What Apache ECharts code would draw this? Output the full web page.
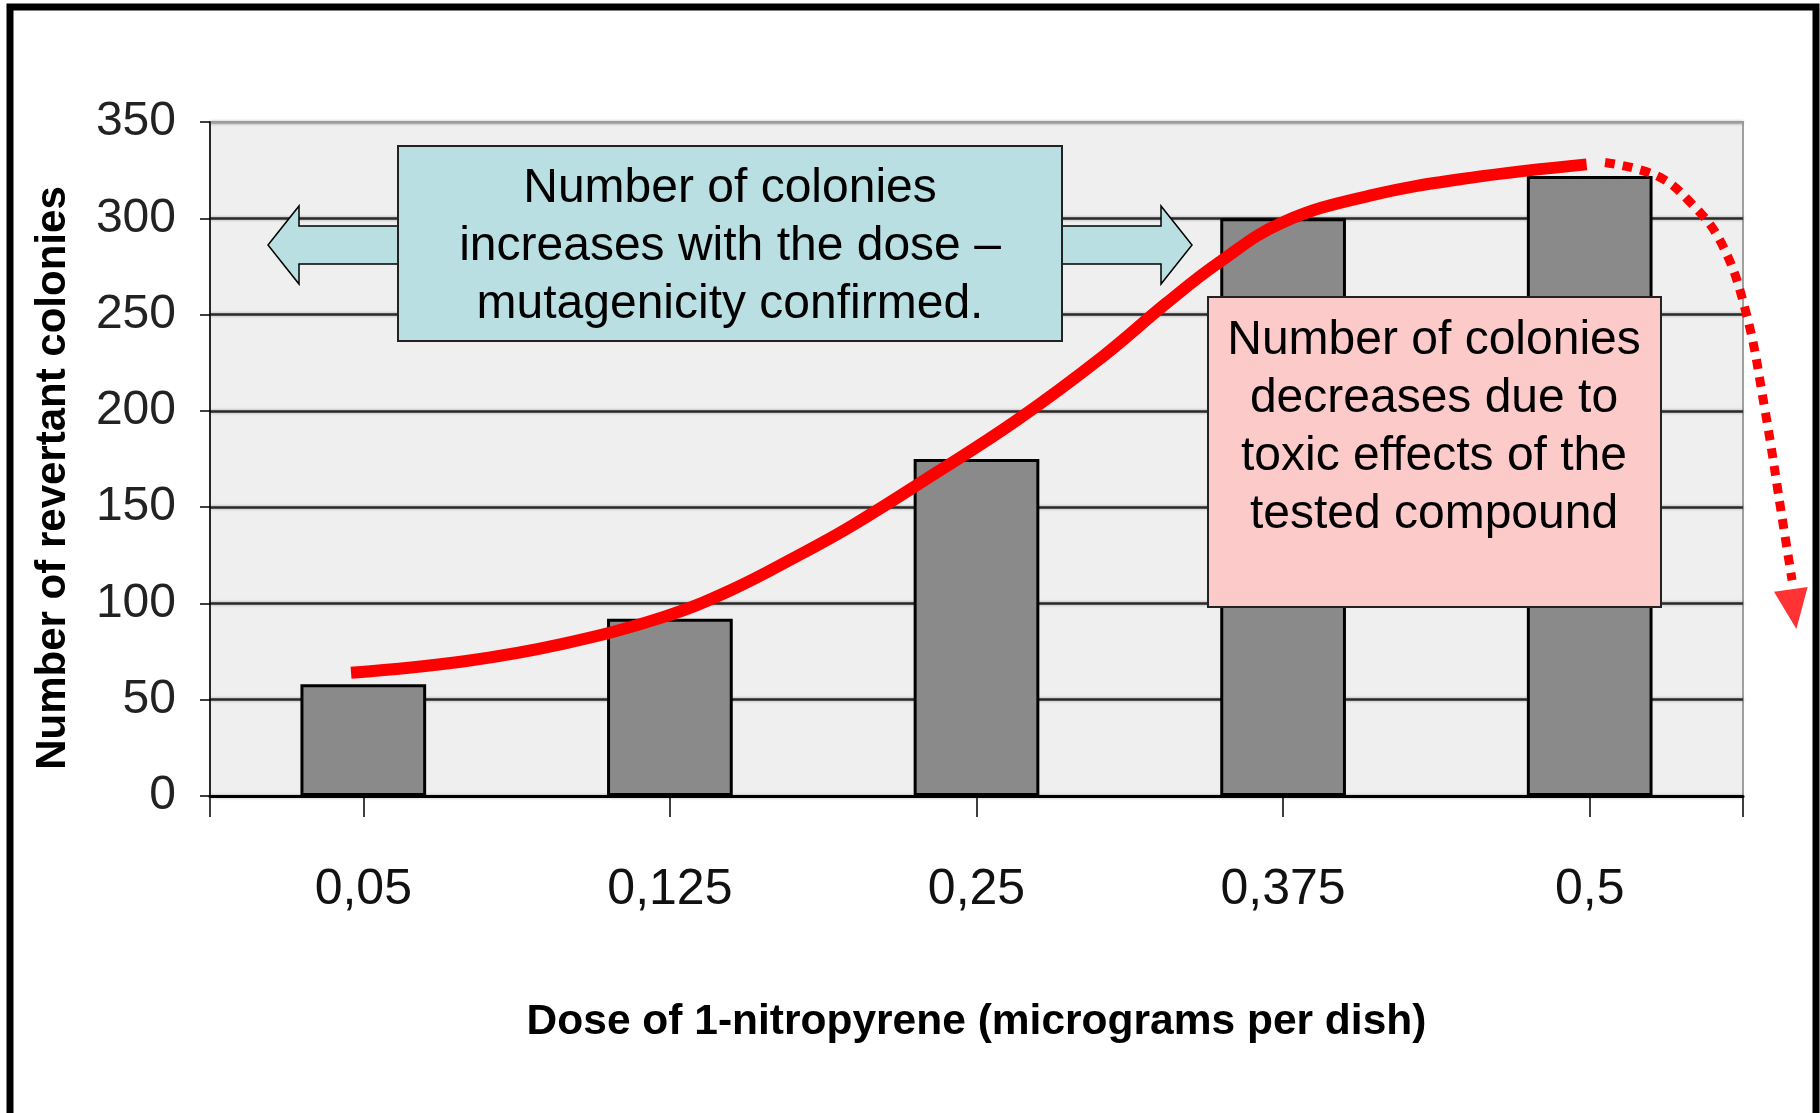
<!DOCTYPE html>
<html>
<head>
<meta charset="utf-8">
<title>Ames test - 1-nitropyrene</title>
<script src="https://cdn.jsdelivr.net/npm/echarts@6/dist/echarts.min.js"></script>
<style>
  html, body { margin: 0; padding: 0; background: #fff; }
  #chart { width: 1820px; height: 1113px; }
</style>
</head>
<body>
<div id="chart"></div>
<script>
// dose categories (x axis)
var doses = ['0,05', '0,125', '0,25', '0,375', '0,5'];
// revertant colonies per dose
var colonies = [58, 92, 175, 300, 322];
// y axis ticks
var yMin = 0, yMax = 350, yStep = 50;

// hand-drawn trend curve, [category position, colonies]
var trendSolid = [[-0.04, 64], [0.33, 70], [0.65, 79], [0.98, 93], [1.2, 107], [1.42, 125], [1.59, 140],
                  [1.86, 167], [2.13, 195], [2.41, 228], [2.62, 256], [2.79, 277], [3.0, 298],
                  [3.29, 312], [3.61, 321], [3.99, 328]];
// dotted continuation after the peak
var trendDotted = [[4.05, 329], [4.22, 322], [4.33, 308], [4.43, 287], [4.51, 251], [4.57, 202], [4.63, 142], [4.66, 112]];
// arrow head at end of dotted curve
var arrowHead = [[4.665, 97]];

// annotation texts
var noteUp = 'Number of colonies\nincreases with the dose \u2013\nmutagenicity confirmed.';
var noteDown = 'Number of colonies\ndecreases due to\ntoxic effects of the\ntested compound';
var xTitle = 'Dose of 1-nitropyrene (micrograms per dish)';
var yTitle = 'Number of revertant colonies';

var sans = "'Liberation Sans', Arial, sans-serif";
var teal = '#b9dfe2';
var pink = '#fdcaca';

// plot area
var chartW = 1820;
var plotLeft = 210, plotRight = 77, plotTop = 122, plotBottom = 317;
var bandWidth = (chartW - plotLeft - plotRight) / doses.length;
// the curve grid runs to the right edge of the page so the dotted arrow can leave the plot
var curveMax = -0.5 + (chartW - plotLeft) / bandWidth;

var chart = echarts.init(document.getElementById('chart'), null, {renderer: 'canvas'});

// gridline colours: last one (350) is the light plot border
var gridColors = [];
var nLines = (yMax - yMin) / yStep;
for (var i = 0; i <= nLines; i++) {
    gridColors.push(i === nLines ? '#a0a0a0' : '#2b2b2b');
}

var option = {
    backgroundColor: '#ffffff',
    animation: false,
    grid: [
        {
            left: plotLeft, right: plotRight, top: plotTop, bottom: plotBottom,
            show: true,
            backgroundColor: '#efefef',
            borderColor: '#a0a0a0',
            borderWidth: 2
        },
        {
            // same height, wider: used only by the red curve
            left: plotLeft, right: 0, top: plotTop, bottom: plotBottom,
            show: false
        }
    ],
    xAxis: [
        {
            type: 'category',
            gridIndex: 0,
            data: doses,
            boundaryGap: true,
            name: xTitle,
            nameLocation: 'middle',
            nameGap: 205,
            nameTextStyle: {fontFamily: sans, fontWeight: 'bold', fontSize: 42.5, color: '#000'},
            axisLine: {show: true, lineStyle: {color: '#000', width: 3}},
            axisTick: {show: true, alignWithLabel: true, length: 21, lineStyle: {color: '#000', width: 1.5}},
            axisLabel: {fontFamily: sans, fontSize: 50, color: '#111', margin: 69},
            splitLine: {show: false}
        },
        {
            // only gives the ticks at the two ends of the x axis
            type: 'category',
            gridIndex: 0,
            data: [''],
            position: 'bottom',
            boundaryGap: true,
            axisLine: {show: false},
            axisTick: {show: true, length: 21, lineStyle: {color: '#000', width: 1.5}},
            axisLabel: {show: false},
            splitLine: {show: false}
        },
        {
            // hidden value axis for the trend curve (category centres at 0..4)
            type: 'value',
            gridIndex: 1,
            min: -0.5, max: curveMax,
            show: false
        }
    ],
    yAxis: [
        {
            type: 'value',
            gridIndex: 0,
            min: yMin, max: yMax, interval: yStep,
            name: yTitle,
            nameLocation: 'middle',
            nameGap: 136,
            nameRotate: 90,
            nameTextStyle: {fontFamily: sans, fontWeight: 'bold', fontSize: 42, color: '#000', padding: [0, 38, 0, 0]},
            axisLine: {show: true, onZero: false, lineStyle: {color: '#000', width: 1.5}},
            axisTick: {show: true, inside: false, length: 10, lineStyle: {color: '#000', width: 1.5}},
            axisLabel: {fontFamily: sans, fontSize: 48, color: '#222', margin: 34},
            splitLine: {show: true, lineStyle: {color: gridColors, width: 2.5, shadowColor: 'rgba(0,0,0,0.35)', shadowBlur: 3}}
        },
        {
            type: 'value',
            gridIndex: 1,
            min: yMin, max: yMax,
            show: false
        }
    ],
    series: [
        {
            type: 'bar',
            xAxisIndex: 0,
            yAxisIndex: 0,
            data: colonies,
            barWidth: '41%',
            itemStyle: {color: '#8a8a8a', borderColor: '#000', borderWidth: 3},
            z: 3
        },
        {
            type: 'line',
            xAxisIndex: 2,
            yAxisIndex: 1,
            data: trendSolid,
            smooth: 0.4,
            symbol: 'none',
            lineStyle: {color: '#ff0000', width: 12, cap: 'butt'},
            z: 5
        },
        {
            type: 'line',
            xAxisIndex: 2,
            yAxisIndex: 1,
            data: trendDotted,
            smooth: 0.4,
            symbol: 'none',
            lineStyle: {color: '#ff0000', width: 9, type: [10, 8], cap: 'butt'},
            z: 5
        },
        {
            type: 'scatter',
            xAxisIndex: 2,
            yAxisIndex: 1,
            data: arrowHead,
            symbol: 'triangle',
            symbolSize: [34, 40],
            symbolRotate: 188,
            itemStyle: {color: '#ff0000'},
            z: 5
        }
    ],
    graphic: [
        // outer frame
        {
            type: 'polyline',
            shape: {points: [[10, 1120], [10, 7], [1816, 7], [1816, 1120]]},
            style: {stroke: '#000', lineWidth: 7, fill: null},
            z: 10
        },
        // double arrow behind the teal note
        {
            type: 'polygon',
            shape: {points: [[268, 245], [299, 206], [299, 226], [1161, 226], [1161, 206], [1192, 245],
                             [1161, 284], [1161, 264], [299, 264], [299, 284]]},
            style: {fill: teal, stroke: '#000', lineWidth: 1.5},
            z: 20
        },
        {
            type: 'rect',
            shape: {x: 398, y: 146, width: 664, height: 195},
            style: {fill: teal, stroke: '#222', lineWidth: 2},
            z: 21
        },
        {
            type: 'text',
            x: 730, y: 247,
            style: {text: noteUp, fontFamily: sans, fontSize: 48, lineHeight: 58,
                    fill: '#000', align: 'center', verticalAlign: 'middle'},
            z: 22
        },
        {
            type: 'rect',
            shape: {x: 1208, y: 297, width: 453, height: 310},
            style: {fill: pink, stroke: '#222', lineWidth: 2},
            z: 21
        },
        {
            type: 'text',
            x: 1434, y: 428,
            style: {text: noteDown, fontFamily: sans, fontSize: 48, lineHeight: 58,
                    fill: '#000', align: 'center', verticalAlign: 'middle'},
            z: 22
        }
    ]
};

chart.setOption(option);
console.log('chart ready');
</script>
</body>
</html>
